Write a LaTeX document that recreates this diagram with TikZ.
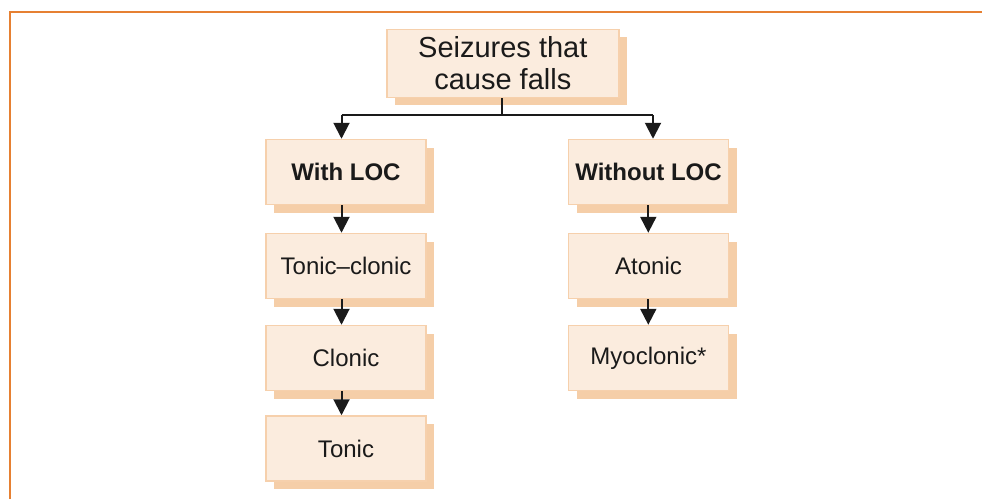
\documentclass[tikz,border=0pt]{standalone}
\usepackage{fontspec}
\setmainfont{Liberation Sans}
\usetikzlibrary{arrows.meta,shadows}
\definecolor{boxfill}{RGB}{251,236,222}
\definecolor{boxline}{RGB}{246,208,172}
\definecolor{shadowc}{RGB}{245,206,168}
\definecolor{orangeframe}{RGB}{230,128,50}
\definecolor{inkc}{RGB}{26,26,26}
\tikzset{
  pbox/.style={draw=boxline, line width=1.5pt, fill=boxfill,
    minimum width=160pt, minimum height=65pt, inner sep=0pt, text=inkc,
    font=\fontsize{24}{28}\selectfont,
    general shadow={shadow xshift=8pt, shadow yshift=-8pt, fill=shadowc, draw=none}},
  conn/.style={line width=2pt, draw=inkc},
  arr/.style={conn, -{Triangle[width=16pt,length=16pt]}},
  framestyle/.style={draw=orangeframe, line width=2pt}
}
\begin{document}
\begin{tikzpicture}[x=1pt,y=-1pt]
\useasboundingbox (0,0) rectangle (982,499);
% frame
\draw[framestyle] (9.5,499) -- (9.5,11.5) -- (982,11.5);
% nodes
\node[pbox, minimum width=232pt, minimum height=68pt, align=center,
  font=\fontsize{29}{32}\selectfont] (top) at (502.8,63.3) {Seizures that\\cause falls};
\node[pbox, font=\fontsize{24}{28}\selectfont\bfseries] (with) at (346,172) {With LOC};
\node[pbox, font=\fontsize{24}{28}\selectfont\bfseries] (without) at (648.5,172) {Without LOC};
\node[pbox] (tc) at (346,266) {Tonic–clonic};
\node[pbox] (clonic) at (346,358) {Clonic};
\node[pbox] (tonic) at (346,448.5) {Tonic};
\node[pbox] (atonic) at (648.5,266) {Atonic};
\node[pbox] (myo) at (648.5,358) {Myoclonic*};
% connectors
\coordinate (j) at (501.7,115);
\coordinate (jl) at (341.5,115);
\coordinate (jr) at (653,115);
\draw[conn] (top.south -| j) -- (j);
\draw[conn] (jl) -- (jr);
\draw[arr] (jl) -- (jl |- with.north);
\draw[arr] (jr) -- (jr |- without.north);
\draw[arr] ([xshift=-4.5pt]with.south) -- ([xshift=-4.5pt]tc.north);
\draw[arr] ([xshift=-4.5pt]tc.south) -- ([xshift=-4.5pt]clonic.north);
\draw[arr] ([xshift=-4.5pt]clonic.south) -- ([xshift=-4.5pt]tonic.north);
\draw[arr] ([xshift=-0.2pt]without.south) -- ([xshift=-0.2pt]atonic.north);
\draw[arr] ([xshift=-0.2pt]atonic.south) -- ([xshift=-0.2pt]myo.north);
\end{tikzpicture}
\end{document}
